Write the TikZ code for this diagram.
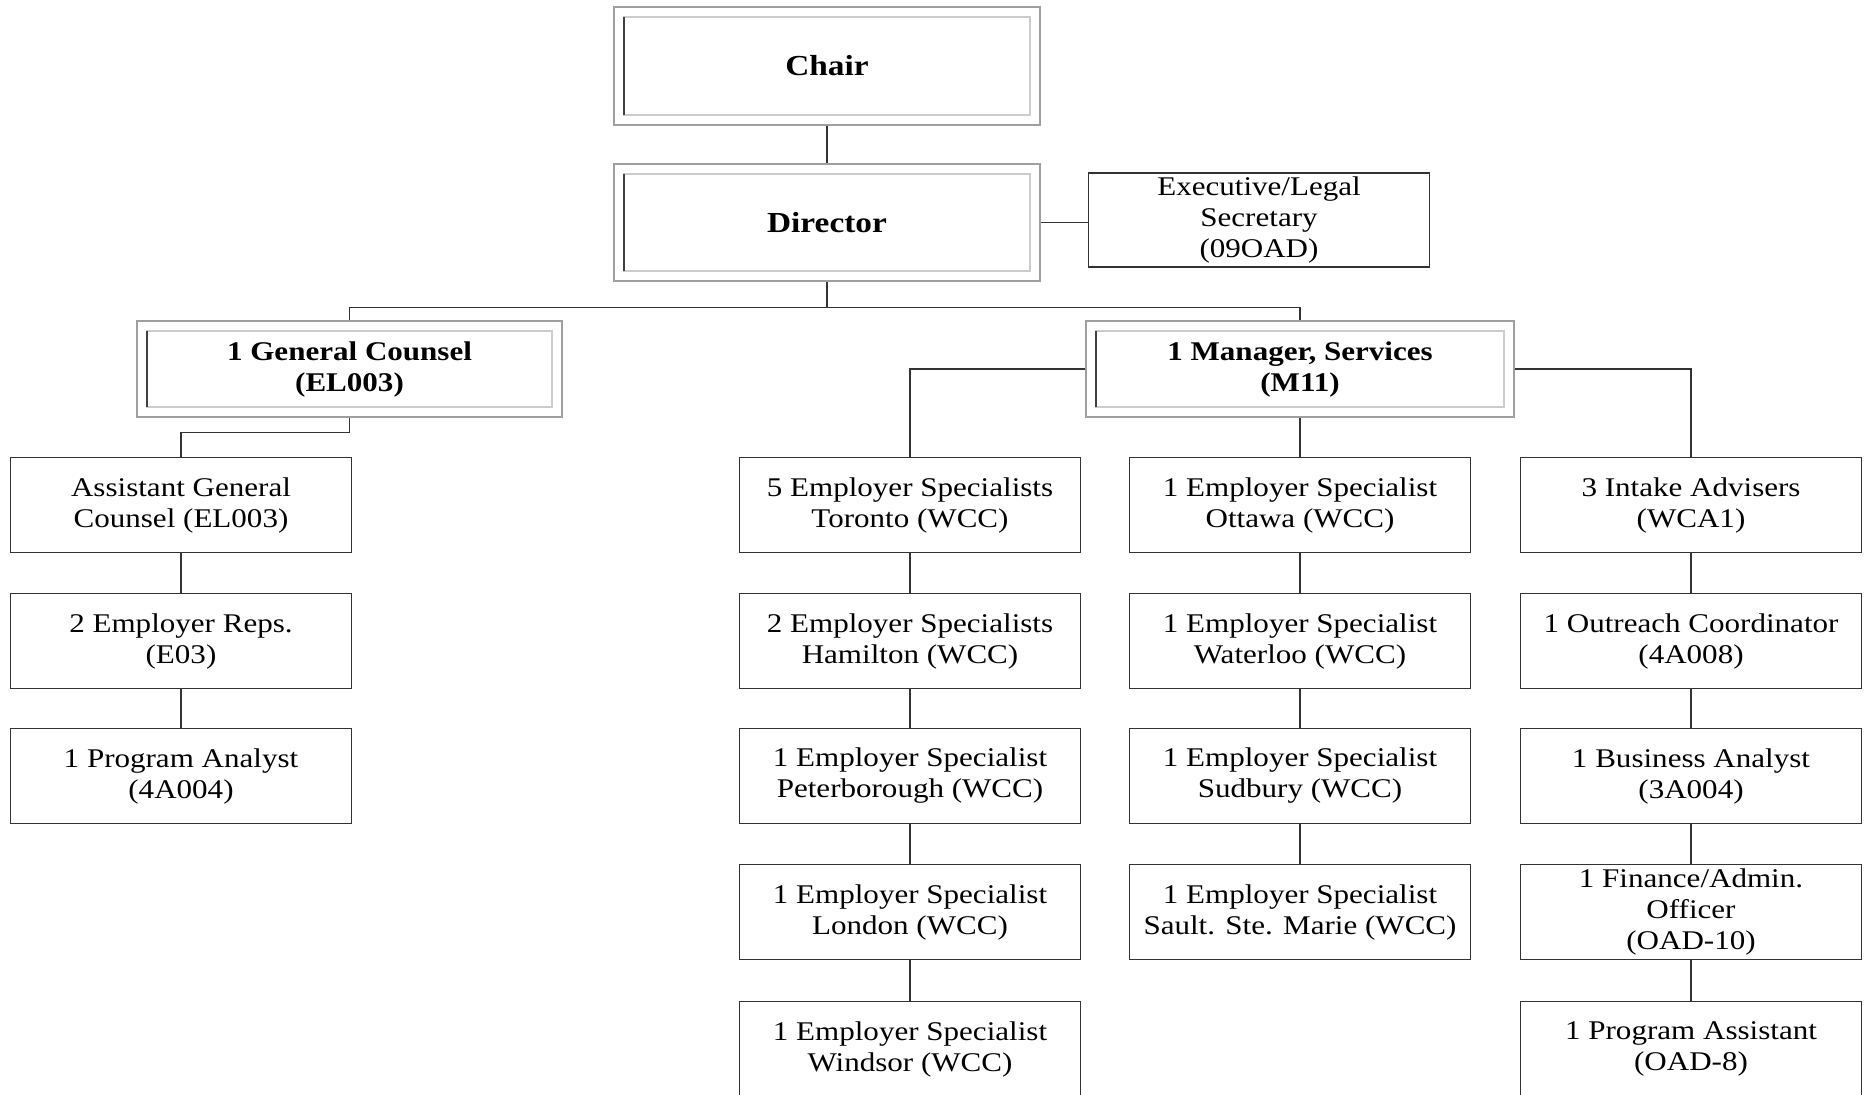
\documentclass[tikz,border=0pt]{standalone}
\usepackage{fontspec}
\setmainfont{Liberation Serif}[FakeStretch=1.15]
\usetikzlibrary{positioning,calc}
\tikzset{
  postbox/.style={rectangle,draw=black!80,line width=0.9pt,minimum width=170.5pt,minimum height=47.5pt,
    align=center,inner sep=1pt,font=\fontsize{13.5}{15.5}\selectfont},
  seniorbox/.style={rectangle,draw=gray!75,line width=1.4pt,align=center,inner sep=1pt,
    font=\bfseries\fontsize{13.5}{15.5}\selectfont,
    path picture={
      \draw[gray!40,line width=0.9pt] ([shift={(5pt,5pt)}]path picture bounding box.south west)
        rectangle ([shift={(-5pt,-5pt)}]path picture bounding box.north east);
      \draw[black!75,line width=1.3pt] ([shift={(5pt,5pt)}]path picture bounding box.south west)
        -- ([shift={(5pt,-5pt)}]path picture bounding box.north west);
    }},
  link/.style={draw=black!80,line width=0.8pt}
}
\begin{document}
\begin{tikzpicture}[x=0.5pt,y=-0.5pt]
\useasboundingbox (0,0) rectangle (1866,1094);
% top of the chart
\path
(827,66) node(chair) [seniorbox,minimum width=213pt,minimum height=59pt,font=\bfseries\fontsize{14.5}{16}\selectfont] {Chair}
(827,222.5) node(dir) [seniorbox,minimum width=213pt,minimum height=58.5pt,font=\bfseries\fontsize{14.5}{16}\selectfont] {Director}
(1259,220) node(sec) [postbox,minimum height=47pt] {Executive/Legal\\Secretary\\(09OAD)}
(349.5,369) node(gc) [seniorbox,minimum width=212.5pt,minimum height=48pt] {1 General Counsel\\(EL003)}
(1300,369) node(mgr) [seniorbox,minimum width=214pt,minimum height=48pt] {1 Manager, Services\\(M11)};
% legal column
\path
(181,505) node(agc) [postbox] {Assistant General\\Counsel (EL003)}
(181,641) node(rep) [postbox] {2 Employer Reps.\\(E03)}
(181,776) node(pa) [postbox] {1 Program Analyst\\(4A004)};
% services columns
\path
(910,505) node(tor) [postbox] {5 Employer Specialists\\Toronto (WCC)}
(910,641) node(ham) [postbox] {2 Employer Specialists\\Hamilton (WCC)}
(910,776) node(pet) [postbox] {1 Employer Specialist\\Peterborough (WCC)}
(910,912) node(lon) [postbox] {1 Employer Specialist\\London (WCC)}
(910,1049) node(win) [postbox] {1 Employer Specialist\\Windsor (WCC)}
(1300,505) node(ott) [postbox] {1 Employer Specialist\\Ottawa (WCC)}
(1300,641) node(wat) [postbox] {1 Employer Specialist\\Waterloo (WCC)}
(1300,776) node(sud) [postbox] {1 Employer Specialist\\Sudbury (WCC)}
(1300,912) node(ssm) [postbox] {1 Employer Specialist\\Sault. Ste. Marie (WCC)}
(1691,505) node(int) [postbox] {3 Intake Advisers\\(WCA1)}
(1691,641) node(out) [postbox] {1 Outreach Coordinator\\(4A008)}
(1691,776) node(ba) [postbox] {1 Business Analyst\\(3A004)}
(1691,912) node(fin) [postbox] {1 Finance/Admin.\\Officer\\(OAD-10)}
(1691,1049) node(pas) [postbox] {1 Program Assistant\\(OAD-8)};
% connectors
\draw[link] (chair) -- (dir);
\draw[link] (dir.east) -- (dir.east -| sec.west);
\draw[link] (dir.south) -- ++(0,25) coordinate(jn);
\draw[link] (gc.north) |- (jn) -| (mgr.north);
\draw[link] (gc.south) -- ++(0,14) -| (agc.north);
\draw[link] (agc) -- (rep) (rep) -- (pa);
\draw[link] (mgr.west) -| (tor.north);
\draw[link] (mgr.south) -- (ott.north);
\draw[link] (mgr.east) -| (int.north);
\draw[link] (tor) -- (ham) (ham) -- (pet) (pet) -- (lon) (lon) -- (win);
\draw[link] (ott) -- (wat) (wat) -- (sud) (sud) -- (ssm);
\draw[link] (int) -- (out) (out) -- (ba) (ba) -- (fin) (fin) -- (pas);
\end{tikzpicture}
\end{document}
